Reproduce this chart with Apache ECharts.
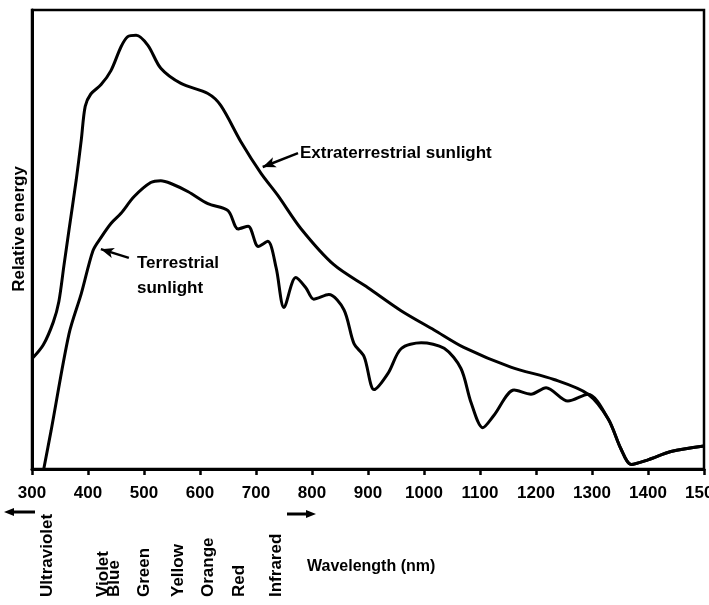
<!DOCTYPE html>
<html>
<head>
<meta charset="utf-8">
<script src="https://cdn.jsdelivr.net/npm/echarts@6/dist/echarts.min.js"></script>
<style>
html, body { margin: 0; padding: 0; background: #fff; }
#chart { width: 709px; height: 605px; }
</style>
</head>
<body>
<div id="chart"></div>
<script>
// 光谱数据（波长 nm / 相对能量）
var extraWl  = [300, 320, 338, 348, 357, 366, 379, 388, 395, 405, 423, 441, 459, 471, 486, 507, 530, 566, 614, 637, 673, 709, 739, 780, 839, 900, 959, 1018, 1071, 1155, 1232, 1293, 1329, 1352, 1370, 1400, 1441, 1500];
var extraVal = [24, 27, 32, 36.5, 44.3, 52, 63, 71.7, 79, 81.7, 83.7, 86.8, 92, 94.2, 94.5, 92.3, 87.3, 84, 81.8, 79.2, 71.3, 64.4, 59.6, 52.4, 44.5, 39.5, 34.5, 30.3, 26.5, 22.2, 19.5, 16.3, 10.9, 4.3, 1, 2, 3.8, 5];

var terrWl  = [321, 334, 366, 388, 409, 423, 441, 459, 482, 512, 530, 548, 579, 614, 650, 668, 686, 704, 721, 736, 750, 771, 789, 803, 830, 857, 875, 893, 911, 936, 959, 995, 1036, 1066, 1084, 1105, 1125, 1161, 1191, 1218, 1257, 1293, 1329, 1352, 1370, 1400, 1441, 1500];
var terrVal = [0, 8.3, 29.4, 38.2, 47.6, 50.4, 53.5, 55.7, 59.3, 62.4, 62.8, 62.2, 60.4, 57.8, 56.3, 52.3, 52.9, 48.5, 49.6, 43.8, 35.2, 41.7, 39.5, 37, 38, 34.7, 27.3, 24.5, 17.3, 20.9, 26.2, 27.5, 26.3, 21.9, 14.5, 9, 11.7, 17.2, 16.3, 17.7, 14.8, 16.3, 10.9, 4.3, 1, 2, 3.8, 5];

var xTicks = [300, 400, 500, 600, 700, 800, 900, 1000, 1100, 1200, 1300, 1400, 1500];

var bandNames = ['Ultraviolet', 'Violet', 'Blue', 'Green', 'Yellow', 'Orange', 'Red', 'Infrared'];
var bandWl    = [328, 427, 447, 500, 562, 614, 670, 736];

// 注释箭头：起点 -> 终点（数据坐标）
var extraArrow = [[775, 68.8], [712, 65.8]];
var terrArrow  = [[473, 46], [423, 47.9]];

function pairs(xs, ys) {
  return xs.map(function (x, i) { return [x, ys[i]]; });
}

var FONT = '"Liberation Sans", Arial, sans-serif';
var chart = echarts.init(document.getElementById('chart'));

function arrowLine(pts) {
  return {
    silent: true,
    symbol: ['none', 'arrow'],
    symbolSize: [8, 13],
    label: { show: false },
    lineStyle: { color: '#000', width: 2.5, type: 'solid' },
    data: [[{ coord: pts[0] }, { coord: pts[1] }]]
  };
}

chart.setOption({
  animation: false,
  backgroundColor: '#fff',
  grid: {
    left: 32, right: 5, top: 10, bottom: 136,
    containLabel: false, outerBoundsMode: 'none',
    show: true, borderColor: '#000', borderWidth: 2.5
  },
  xAxis: {
    type: 'value', min: 300, max: 1500, interval: 100,
    axisLine: { show: true, lineStyle: { color: '#000', width: 3 } },
    axisTick: { show: true, inside: false, length: 6, lineStyle: { color: '#000', width: 2.5 } },
    axisLabel: {
      margin: 16, color: '#000', fontFamily: FONT, fontSize: 17, fontWeight: 'bold',
      hideOverlap: false,
      formatter: function (v) { return xTicks.indexOf(v) >= 0 ? String(v) : ''; }
    },
    splitLine: { show: false }
  },
  yAxis: {
    type: 'value', min: 0, max: 100,
    axisLine: { show: true, lineStyle: { color: '#000', width: 3 } },
    axisTick: { show: false }, axisLabel: { show: false }, splitLine: { show: false }
  },
  series: [
    {
      name: 'Extraterrestrial sunlight', type: 'line', data: pairs(extraWl, extraVal),
      smooth: 0.3, symbol: 'none', lineStyle: { color: '#000', width: 3 },
      markLine: arrowLine(extraArrow)
    },
    {
      name: 'Terrestrial sunlight', type: 'line', data: pairs(terrWl, terrVal),
      smooth: 0.3, symbol: 'none', lineStyle: { color: '#000', width: 3 },
      markLine: arrowLine(terrArrow)
    }
  ]
});

var txt = { fill: '#000', fontFamily: FONT, fontSize: 17, fontWeight: 'bold' };
function style(extra) { return Object.assign({}, txt, extra); }

var graphics = [
  { type: 'text', x: 300, y: 153, style: style({ text: 'Extraterrestrial sunlight', textVerticalAlign: 'middle' }) },
  { type: 'text', x: 137, y: 263, style: style({ text: 'Terrestrial', textVerticalAlign: 'middle' }) },
  { type: 'text', x: 137, y: 288, style: style({ text: 'sunlight', textVerticalAlign: 'middle' }) },
  { type: 'text', x: 19, y: 229, rotation: Math.PI / 2, style: style({ text: 'Relative energy', textAlign: 'center', textVerticalAlign: 'middle' }) },
  { type: 'text', x: 307, y: 567, style: style({ text: 'Wavelength (nm)', fontSize: 16, textVerticalAlign: 'middle' }) },
  // 轴下方左右箭头
  { type: 'line', shape: { x1: 35, y1: 512, x2: 12, y2: 512 }, style: { stroke: '#000', lineWidth: 3 } },
  { type: 'polygon', shape: { points: [[4, 512], [14, 508], [14, 516]] }, style: { fill: '#000' } },
  { type: 'line', shape: { x1: 287, y1: 514, x2: 308, y2: 514 }, style: { stroke: '#000', lineWidth: 3 } },
  { type: 'polygon', shape: { points: [[316, 514], [306, 510], [306, 518]] }, style: { fill: '#000' } }
];

bandNames.forEach(function (name, i) {
  var px = chart.convertToPixel({ xAxisIndex: 0 }, bandWl[i]);
  graphics.push({
    type: 'text', x: px, y: 597, rotation: Math.PI / 2,
    style: style({ text: name, textAlign: 'left', textVerticalAlign: 'middle' })
  });
});

chart.setOption({ graphic: graphics });
</script>
</body>
</html>
